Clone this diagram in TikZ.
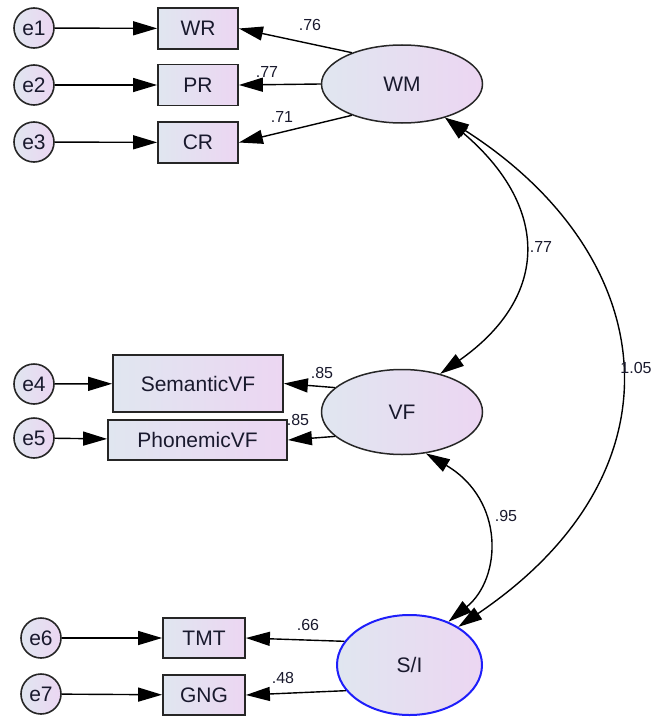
\documentclass[tikz,border=0pt]{standalone}
\usepackage{fontspec}
\setmainfont{Liberation Sans}
\usetikzlibrary{arrows.meta,shapes.geometric}
\definecolor{fillL}{RGB}{224,230,240}
\definecolor{fillR}{RGB}{236,214,242}
\definecolor{txt}{RGB}{25,25,45}
\definecolor{siblue}{RGB}{30,30,250}
\begin{document}
\begin{tikzpicture}[x=1pt,y=-1pt,
  obs/.style={rectangle, draw=black!85, line width=1.8pt, left color=fillL, right color=fillR,
    minimum width=80pt, minimum height=41pt, inner sep=0pt,
    font=\fontsize{21}{21}\selectfont, text=txt},
  err/.style={circle, draw=black!85, line width=1.6pt, left color=fillL, right color=fillR,
    minimum size=40pt, inner sep=0pt, font=\fontsize{21}{21}\selectfont, text=txt},
  lat/.style={ellipse, draw=black!85, line width=1.5pt, left color=fillL, right color=fillR,
    inner sep=0pt, font=\fontsize{21}{21}\selectfont, text=txt},
  tipk/.tip={Triangle[length=24pt,width=14pt]},
  arr/.style={-tipk, line width=1.4pt},
  dbl/.style={tipk-tipk, line width=1.4pt},
  lbl/.style={font=\fontsize{16}{16}\selectfont, text=txt, inner sep=0pt}
]
\useasboundingbox (0,0) rectangle (653,717);

% WM block
\node[err] (e1) at (34,28) {e1};
\node[err] (e2) at (34,85) {e2};
\node[err] (e3) at (34,142) {e3};
\node[obs] (WR) at (198,28.5) {WR};
\node[obs] (PR) at (198,85) {PR};
\node[obs] (CR) at (198,142.5) {CR};
\node[lat, minimum width=161pt, minimum height=78pt] (WM) at (402,84) {WM};

% VF block
\node[err] (e4) at (34,384) {e4};
\node[err] (e5) at (34,438) {e5};
\node[obs, minimum width=170pt, minimum height=57pt] (SVF) at (198,383.5) {SemanticVF};
\node[obs, minimum width=179pt, minimum height=40pt] (PVF) at (197.5,440) {PhonemicVF};
\node[lat, minimum width=161pt, minimum height=85pt] (VF) at (402,412) {VF};

% S/I block
\node[err] (e6) at (41,638) {e6};
\node[err] (e7) at (41,694) {e7};
\node[obs, minimum width=82pt, minimum height=40pt] (TMT) at (204,638) {TMT};
\node[obs, minimum width=82pt, minimum height=40pt] (GNG) at (204,695) {GNG};
\node[lat, draw=siblue, line width=2pt, minimum width=145pt, minimum height=100pt] (SI) at (409.5,665) {S/I};

% error arrows
\draw[arr] (e1) -- (WR);
\draw[arr] (e2) -- (PR);
\draw[arr] (e3) -- (CR);
\draw[arr] (e4) -- (SVF);
\draw[arr] (e5) -- (PVF);
\draw[arr] (e6) -- (TMT);
\draw[arr] (e7) -- (GNG);

% loadings
\draw[arr] (WM.148) -- (WR.east);
\draw[arr] (WM.west) -- (PR.east);
\draw[arr] (WM.212) -- (CR.east);
\draw[arr] (VF.160) -- (SVF.east);
\draw[arr] (VF.200) -- (PVF.east);
\draw[arr] (SI.160) -- (TMT.east);
\draw[arr] (SI.202) -- (GNG.east);

\node[lbl] (l76) at (310,25) {.76};
\node[lbl] (l77a) at (267,72) {.77};
\node[lbl] (l71) at (282,117) {.71};
\node[lbl] (l85a) at (322,373) {.85};
\node[lbl] (l85b) at (298,420) {.85};
\node[lbl] (l66) at (308,625) {.66};
\node[lbl] (l48) at (283,678) {.48};

% covariances
\draw[dbl] (WM.-38) .. controls (548,205) and (552,295) .. (VF.45);
\draw[dbl] (WM.-38) .. controls (660,255) and (690,470) .. (SI.38);
\draw[dbl] (VF.-60) .. controls (505,500) and (502,578) .. (SI.48);

\node[lbl] (l77b) at (541,247) {.77};
\node[lbl] (l105) at (636,368) {1.05};
\node[lbl] (l95) at (506,516) {.95};
\end{tikzpicture}
\end{document}
